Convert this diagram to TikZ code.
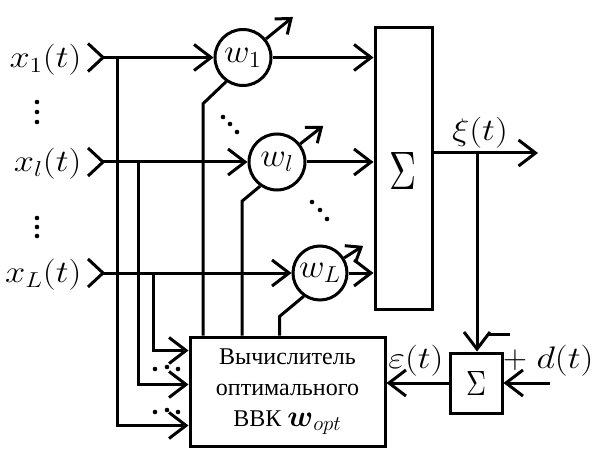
\documentclass[tikz,border=0pt]{standalone}
\usepackage{amsmath}
\usepackage{fontspec}
\setmainfont{Liberation Serif}
\usetikzlibrary{arrows.meta,calc}
\newcommand{\labsc}[1]{\scalebox{1.75}[1.5]{#1}}
\newcommand{\wsc}[1]{\scalebox{1.7}[1.6]{#1}}
\begin{document}
\begin{tikzpicture}[x=1pt,y=-1pt,line width=3pt,
  ar/.style={-{Straight Barb[length=17pt,width=26pt,line width=3pt]}},
  ar2/.style={-{Straight Barb[length=13pt,width=20pt,line width=3pt]}},
  lab/.style={font=\fontsize{20.74}{24}\selectfont, inner sep=0pt},
  wcirc/.style={draw, circle, minimum size=56pt, inner sep=0pt, font=\fontsize{20.74}{24}\selectfont},
  blk/.style={draw, inner sep=0pt},
]
\useasboundingbox (0,0) rectangle (594,449);

% inputs
\node[lab, anchor=east] (lx1) at (83,60) {\labsc{$x_1(t)$}};
\node[lab, anchor=east] (lxl) at (83,164) {\labsc{$x_l(t)$}};
\node[lab, anchor=east] (lxL) at (83,275) {\labsc{$x_L(t)$}};
\coordinate (in1) at (103,57.5);
\coordinate (inl) at (103,162);
\coordinate (inL) at (103,273);
\foreach \c in {in1,inl,inL}
  \draw ($(\c)+(-15,-14)$) -- (\c) -- ++(-15,14);

% weights
\node[wcirc] (w1) at (243,57.5) {\wsc{$w_1$}};
\node[wcirc] (wl) at (277,162) {\wsc{$w_l$}};
\node[wcirc, minimum size=54pt] (wL) at (320,273) {\wsc{$w_L$}};

% big summator
\node[blk, minimum width=57pt, minimum height=281pt] (S) at (403.5,168.5) {};
\node (Ssym) at (403,171) {\resizebox{27pt}{37pt}{$\Sigma$}};

% calculator
\node[blk, minimum width=195pt, minimum height=109pt, align=center,
      font=\fontsize{24}{31}\selectfont] (C) at (287.5,391.5)
  {Вычислитель\\оптимального\\ВВК {\fontsize{20.74}{24}\selectfont\scalebox{1.45}{$\boldsymbol{w}_{opt}$}}};

% small summator
\node[blk, minimum width=52pt, minimum height=60pt] (s2) at (476,383)
  {\resizebox{20pt}{24pt}{$\Sigma$}};

% input lines
\draw[ar] (in1) -- (w1.west);
\draw[ar] (inl) -- (wl.west);
\draw[ar] (inL) -- (wL.west);

% branches to calculator
\coordinate (b1) at (117,57.5);
\coordinate (bl) at (138,162);
\coordinate (bL) at (153,273);
\draw[ar] (b1) |- ($(C.north west)+(0,90)$);
\draw[ar] (bl) |- ($(C.north west)+(0,49)$);
\draw[ar] (bL) |- ($(C.north west)+(0,15)$);

% weight control lines from calculator
\draw (w1.235) -- ++(-23,22) coordinate (k1) -- (k1 |- C.north);
\draw (wl.235) -- ++(-18,15) coordinate (kl) -- (kl |- C.north);
\draw (wL.235) -- ++(-24,20) coordinate (kL) -- (kL |- C.north);

% adjust arrows
\draw[ar2] (w1.39) -- ++(27,-22);
\draw[ar2] (wl.38) -- ++(23,-18);
\draw[ar2] (wL.32) -- ++(19,-12);

% outputs to sum
\draw[ar] (w1.east) -- (w1.east -| S.west);
\draw[ar] (wl.east) -- (wl.east -| S.west);
\draw[ar] (wL.east) -- (wL.east -| S.west);

% sum output
\coordinate (so) at (S.east |- {(0,153)});
\coordinate (xiend) at (538,153);
\draw[ar] (so) -- (xiend);
\node[lab] (xi) at (480,133) {\labsc{$\xi(t)$}};
\coordinate (bx) at (477,153);
\draw[ar] (bx) -- (bx |- s2.north);
\draw (487,334) -- (510,334);

% desired and error
\coordinate (dstart) at (550,383);
\draw[ar] (dstart) -- (s2.east);
\draw[ar] (s2.west) -- (s2.west -| C.east);
\node[lab] (plus) at (515,360) {\scalebox{1.6}{$+$}};
\node[lab] (dl) at (565,361) {\labsc{$d(t)$}};
\node[lab] (eps) at (416,361) {\labsc{$\varepsilon(t)$}};

% dots
\foreach \p in {(37,102),(37,112),(37,122),(37,218),(37,227),(37,236),
  (223,117),(230,124),(237,132),(312,202),(320,210),(327,219),
  (155,369),(167,367),(178,369),(155,412),(167,410),(178,412)}
  \fill \p circle (2.3pt);
\end{tikzpicture}
\end{document}
